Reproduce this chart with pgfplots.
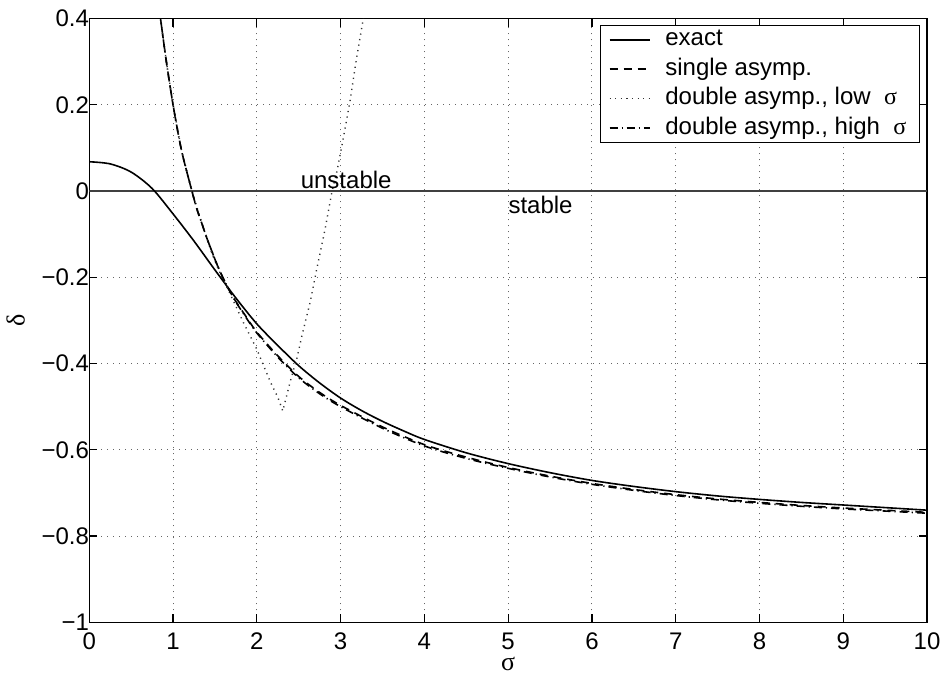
\documentclass[border=0pt]{standalone}
\usepackage{fontspec}
\setmainfont{Liberation Sans}
\newfontfamily\symf{Liberation Serif}
\usepackage{pgfplots}
\pgfplotsset{compat=1.18}
\begin{document}
\fontsize{12}{14}\selectfont
\begin{tikzpicture}
\begin{axis}[
  name=ax,
  scale only axis,
  width=418.85pt, height=301.85pt,
  xmin=0, xmax=10, ymin=-1, ymax=0.4,
  xtick={0,1,2,3,4,5,6,7,8,9,10},
  ytick={-1,-0.8,-0.6,-0.4,-0.2,0,0.2,0.4},
  yticklabels={{−1},{−0.8},{−0.6},{−0.4},{−0.2},{0},{0.2},{0.4}},
  /pgf/number format/assume math mode=true,
  tick align=inside,
  major tick length=4pt,
  every tick/.style={black, line width=0.6pt},
  axis line style={line width=0.6pt},
  grid=major,
  major grid style={black!60, line width=0.5pt, dash pattern=on 0.5pt off 2.5pt},
  ticklabel style={font=\fontsize{12}{14}\selectfont},
  xticklabel style={inner ysep=0pt, yshift=-5pt},
  yticklabel style={xshift=4pt},
  xlabel={{\symf σ}},
  ylabel={{\symf δ}},
  label style={font=\fontsize{13}{15}\selectfont, inner sep=0pt},
  xlabel style={at={(axis description cs:0.5,-0.0695)}, anchor=center},
  ylabel style={at={(axis description cs:-0.088,0.5)}, anchor=center},
  legend cell align=left,
  legend style={at={(1,1)}, anchor=north east, xshift=-3.5pt, yshift=-3.2pt,
    draw=black, line width=0.6pt, font=\fontsize{12}{14}\selectfont,
    inner xsep=4pt, inner ysep=1.1pt, row sep=2.75pt,
    nodes={inner xsep=2.5pt, inner ysep=0pt, text height=9pt, text depth=3pt},
    /tikz/every odd column/.append style={column sep=5pt}},
  legend image code/.code={\draw[#1] (0pt,0pt) -- (20pt,0pt);},
]
\addplot[black!75, line width=0.8pt, forget plot] coordinates {(0,0) (10,0)};
% exact
\addplot[black, line width=0.8pt, smooth] coordinates {
(0,0.068) (0.25,0.063) (0.5,0.044) (0.75,0.006) (1.0,-0.053)
(1.25,-0.116) (1.5,-0.183) (1.75,-0.248) (2.0,-0.308) (2.25,-0.358)
(2.5,-0.405) (2.75,-0.445) (3.0,-0.480) (3.25,-0.509) (3.5,-0.534) (3.75,-0.556)
(4.0,-0.576) (4.5,-0.607) (5.0,-0.632) (5.5,-0.653) (6.0,-0.671) (6.5,-0.685)
(7.0,-0.697) (7.5,-0.707) (8.0,-0.715) (8.5,-0.722) (9.0,-0.728) (9.5,-0.734) (10,-0.740)
};
\addlegendentry{exact}
% single asymp
\addplot[black, line width=0.8pt, smooth, dash pattern=on 4pt off 3pt] coordinates {
(0.80,0.47) (0.85,0.40) (0.92,0.30) (1.0,0.20) (1.1,0.095) (1.225,0.0) (1.285,-0.042)
(1.345,-0.076) (1.405,-0.110) (1.464,-0.140) (1.524,-0.170) (1.6,-0.203) (1.66,-0.226)
(1.74,-0.253) (1.85,-0.285) (2.0,-0.327) (2.25,-0.382) (2.5,-0.430) (2.75,-0.467)
(3.0,-0.497) (3.5,-0.547) (4.0,-0.588) (4.5,-0.617) (5.0,-0.641) (5.5,-0.661)
(6.0,-0.678) (6.5,-0.692) (7.0,-0.704) (7.5,-0.714) (8.0,-0.722) (8.5,-0.729)
(9.0,-0.735) (9.5,-0.740) (10,-0.745)
};
\addlegendentry{single asymp.}
% double asymp low sigma
\addplot[black!80, line width=0.7pt, dash pattern=on 0.6pt off 2.2pt] coordinates {
(0.80,0.47) (0.85,0.40) (0.92,0.30) (1.0,0.20) (1.1,0.095) (1.225,0.0) (1.345,-0.075)
(1.464,-0.145) (1.56,-0.19) (1.68,-0.238) (1.84,-0.305) (2.0,-0.367) (2.16,-0.442)
(2.25,-0.478) (2.31,-0.510) (2.398,-0.442) (2.478,-0.388) (2.54,-0.334) (2.637,-0.257)
(2.717,-0.179) (2.816,-0.087) (2.896,-0.002) (2.955,0.045) (3.015,0.105) (3.075,0.168)
(3.115,0.212) (3.19,0.308) (3.27,0.399) (3.32,0.46)
};
\addlegendentry{double asymp., low\ \ {\symf σ}}
% double asymp high sigma
\addplot[black, line width=0.8pt, smooth, dash pattern=on 4pt off 2pt on 0.6pt off 2pt] coordinates {
(0.80,0.47) (0.85,0.40) (0.92,0.30) (1.0,0.20) (1.1,0.095) (1.225,0.0) (1.285,-0.042)
(1.345,-0.076) (1.405,-0.110) (1.464,-0.140) (1.524,-0.170) (1.6,-0.203) (1.66,-0.226)
(1.74,-0.254) (1.85,-0.287) (2.0,-0.329) (2.25,-0.385) (2.5,-0.433) (2.75,-0.470)
(3.0,-0.500) (3.5,-0.550) (4.0,-0.591) (4.5,-0.620) (5.0,-0.643) (5.5,-0.663)
(6.0,-0.680) (6.5,-0.694) (7.0,-0.706) (7.5,-0.716) (8.0,-0.724) (8.5,-0.731)
(9.0,-0.737) (9.5,-0.742) (10,-0.747)
};
\addlegendentry{double asymp., high\ \ {\symf σ}}
\node[anchor=west, inner sep=0pt, font=\fontsize{12}{14}\selectfont] at (axis cs:2.52,0.026) {unstable};
\node[anchor=west, inner sep=0pt, font=\fontsize{12}{14}\selectfont] at (axis cs:5.0,-0.032) {stable};
\end{axis}
\pgfresetboundingbox
\path ([shift={(-44.65pt,-27.35pt)}]ax.south west) rectangle ([shift={(9pt,9.3pt)}]ax.north east);
\end{tikzpicture}
\end{document}
